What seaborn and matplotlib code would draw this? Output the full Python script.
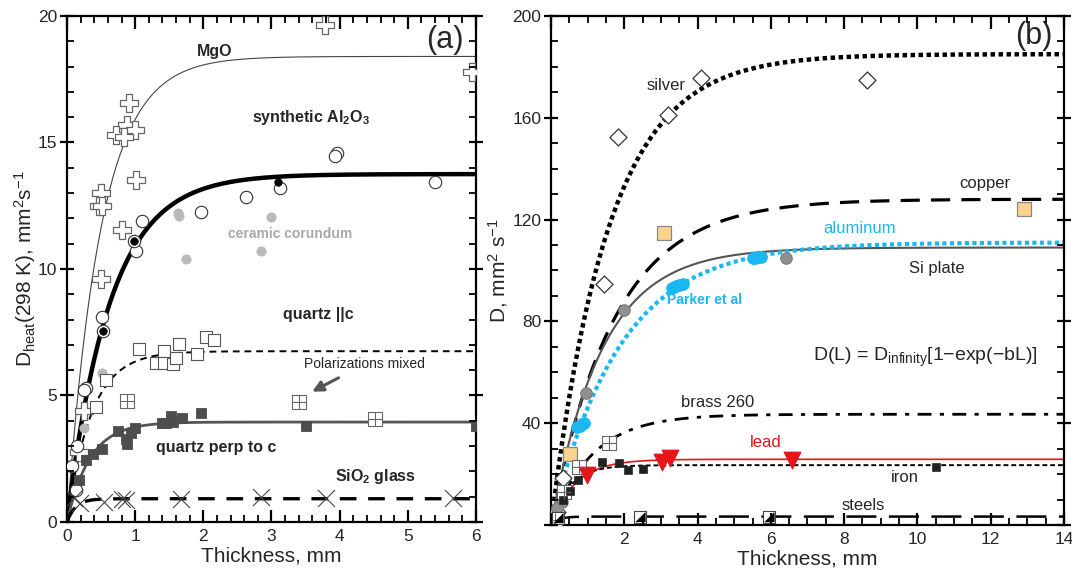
"""Thickness dependence of thermal diffusivity, panels (a) and (b)."""
import matplotlib
matplotlib.use("Agg")
import matplotlib.pyplot as plt
from matplotlib.ticker import MultipleLocator
import numpy as np
import pandas as pd
import seaborn as sns

# ---------------- panel (a): fits D(L) = D_inf [1 - exp(-bL)] ----------------
a_fit_dinf = {"MgO": 18.4, "Al2O3": 13.75, "qz_par": 6.75, "qz_perp": 3.95, "glass": 0.92}
a_fit_b = {"MgO": 2.0, "Al2O3": 1.58, "qz_par": 2.8, "qz_perp": 3.0, "glass": 8.0}

# panel (a) measurements
mgo_x = [0.91, 0.88, 1.0, 0.72, 0.84, 1.01, 0.5, 0.47, 0.52, 0.8, 0.5, 3.78, 5.94, 0.25, 0.17]
mgo_y = [16.55, 15.7, 15.5, 15.3, 15.2, 13.5, 13.0, 12.5, 12.5, 11.55, 9.6, 19.65, 17.8, 4.4, 2.75]

al_open_x = [1.1, 1.97, 2.63, 1.01, 0.985, 0.52, 0.53, 3.96, 3.93, 5.4, 3.13, 0.28, 0.25, 0.15, 0.08, 0.13]
al_open_y = [11.9, 12.25, 12.85, 10.7, 11.1, 8.1, 7.55, 14.6, 14.45, 13.45, 13.2, 5.3, 5.2, 3.0, 2.2, 1.25]
al_fill_x = [0.985, 0.53, 3.1]
al_fill_y = [11.1, 7.55, 13.45]

cer_x = [1.65, 1.63, 3.0, 1.75, 2.85, 0.51, 0.25]
cer_y = [12.1, 12.2, 12.05, 10.4, 10.7, 5.9, 3.7]

qpar_x = [1.05, 1.3, 1.43, 1.43, 1.55, 1.6, 1.65, 1.9, 2.04, 2.16, 0.57, 0.43]
qpar_y = [6.85, 6.3, 6.75, 6.3, 6.25, 6.5, 7.05, 6.65, 7.3, 7.2, 5.6, 4.55]

qmix_x = [0.88, 3.4, 4.52]
qmix_y = [4.8, 4.75, 4.07]

qperp_x = [1.97, 1.4, 1.53, 1.55, 1.69, 1.45, 1.0, 0.94, 0.75, 0.87, 0.88, 0.52, 0.38, 0.28, 0.18, 3.51, 6.0]
qperp_y = [4.3, 3.9, 4.2, 3.95, 4.1, 3.9, 3.7, 3.5, 3.6, 3.3, 3.1, 2.9, 2.7, 2.45, 1.65, 3.8, 3.8]

glass_x = [0.19, 0.1, 0.55, 0.81, 0.86, 1.67, 2.85, 3.8, 5.66]
glass_y = [0.75, 0.95, 0.8, 0.9, 0.87, 0.9, 1.0, 0.95, 0.95]

# ---------------- panel (b): fits ----------------
b_fit_dinf = {"silver": 185, "copper": 128, "si": 109, "al": 111, "brass": 43.5,
              "lead": 25.8, "iron": 23.5, "steel": 3.3}
b_fit_b = {"silver": 0.635, "copper": 0.58, "si": 0.72, "al": 0.535, "brass": 0.9,
           "lead": 1.5, "iron": 2.0, "steel": 5.0}

silver_x = [1.83, 3.2, 4.1, 8.63, 1.45, 0.33, 0.15]
silver_y = [152.5, 161, 175.8, 174.8, 94.8, 18.4, 5]

copper_x = [3.09, 12.9, 0.52, 0.05]
copper_y = [114.6, 124, 27.8, 3]

si_x = [6.4, 2.0, 0.96, 0.3, 0.16]
si_y = [105, 84.3, 52, 9, 6.7]

al_x = [0.72, 0.78, 0.84, 0.9, 3.3, 3.4, 3.5, 3.6, 5.5, 5.58, 5.66, 5.74, 0.03]
al_y = [38.5, 39, 39.5, 40, 93.3, 93.7, 94.1, 94.5, 104.8, 105, 105.2, 105.4, 2]

brass_x = [1.58, 0.77, 0.36, 0.1]
brass_y = [32.2, 22.7, 13, 2]

lead_x = [0.98, 3.03, 3.25, 6.58]
lead_y = [19.6, 24.7, 26.3, 25.5]

iron_x = [1.39, 1.86, 2.1, 2.5, 0.74, 0.52, 0.33, 10.5]
iron_y = [24.7, 24.3, 21.6, 21.9, 17.6, 13.3, 9.8, 22.7]

steel_x = [2.43, 5.96, 0.2]
steel_y = [3.1, 3.1, 2.7]

sns.set_theme(style="ticks", rc={"axes.edgecolor": "black", "axes.linewidth": 1.6})
plt.rcParams["font.family"] = ["Liberation Sans", "DejaVu Sans"]
plt.rcParams["mathtext.default"] = "regular"

fig = plt.figure(figsize=(10.72, 5.70), dpi=100)
ax_a = fig.add_axes([0.0625, 0.0842, 0.3815, 0.8878])
ax_b = fig.add_axes([0.514, 0.079, 0.4785, 0.893])


def fit_curve(ax, xmax, dinf, b, **kw):
    L = np.linspace(0, xmax, 400)
    df = pd.DataFrame({"L": L, "D": dinf * (1 - np.exp(-b * L))})
    sns.lineplot(data=df, x="L", y="D", ax=ax, estimator=None, sort=False, **kw)


def pts(ax, x, y, **kw):
    sns.scatterplot(x=x, y=y, ax=ax, legend=False, **kw)


# ---- panel (a)
pts(ax_a, mgo_x, mgo_y, marker="P", s=150, color="white", edgecolor="#666", linewidth=0.9, zorder=3)
pts(ax_a, al_open_x, al_open_y, marker="o", s=80, color="white", edgecolor="#333", linewidth=0.8, zorder=3)
pts(ax_a, al_fill_x, al_fill_y, marker="o", s=30, color="black", edgecolor="black", zorder=4)
pts(ax_a, cer_x, cer_y, marker="o", s=45, color="#b9b9b9", edgecolor="#b9b9b9", zorder=3)
pts(ax_a, qpar_x, qpar_y, marker="s", s=70, color="white", edgecolor="#555", linewidth=0.8, zorder=3)
pts(ax_a, qmix_x, qmix_y, marker="s", s=90, color="white", edgecolor="#666", linewidth=0.8, zorder=3)
pts(ax_a, qmix_x, qmix_y, marker="+", s=90, color="#666", linewidth=0.8, zorder=4)
pts(ax_a, qperp_x, qperp_y, marker="s", s=55, color="#4d4d4d", edgecolor="#4d4d4d", zorder=3)
pts(ax_a, glass_x, glass_y, marker="x", s=150, color="#444", linewidth=0.8, zorder=3)

fit_curve(ax_a, 6, a_fit_dinf["MgO"], a_fit_b["MgO"], color="#444", lw=0.8, zorder=2)
fit_curve(ax_a, 6, a_fit_dinf["Al2O3"], a_fit_b["Al2O3"], color="black", lw=3.2, zorder=2)
fit_curve(ax_a, 6, a_fit_dinf["qz_par"], a_fit_b["qz_par"], color="black", lw=1.4,
          linestyle=(0, (3.5, 2.5)), zorder=2)
fit_curve(ax_a, 6, a_fit_dinf["qz_perp"], a_fit_b["qz_perp"], color="#555", lw=2.0, zorder=2)
fit_curve(ax_a, 6, a_fit_dinf["glass"], a_fit_b["glass"], color="black", lw=2.4,
          linestyle=(0, (5, 3.5)), zorder=2)

bold = dict(fontsize=11.5, fontweight="bold")
ax_a.text(2.16, 18.6, "MgO", ha="center", va="center", **bold)
ax_a.text(2.72, 16.0, "synthetic Al$_2$O$_3$", ha="left", va="center", **bold)
ax_a.text(3.28, 11.4, "ceramic corundum", ha="center", va="center", color="#a8a8a8",
          fontsize=10, fontweight="bold")
ax_a.text(3.69, 8.2, "quartz ||c", ha="center", va="center", **bold)
ax_a.text(1.31, 2.95, "quartz perp to c", ha="left", va="center", **bold)
ax_a.text(3.93, 1.78, "SiO$_2$ glass", ha="left", va="center", **bold)
ax_a.text(4.37, 6.25, "Polarizations mixed", ha="center", va="center", fontsize=10)
ax_a.annotate("", xy=(3.56, 5.1), xytext=(4.02, 5.75),
              arrowprops=dict(arrowstyle="-|>", color="#555", lw=2.2, mutation_scale=16))
ax_a.text(5.82, 19.05, "(a)", ha="right", va="center", fontsize=22)

ax_a.set_xlim(0, 6)
ax_a.set_ylim(0, 20)
ax_a.set_xlabel("Thickness, mm", fontsize=15, labelpad=2)
ax_a.set_ylabel("D$_{heat}$(298 K), mm$^2$s$^{-1}$", fontsize=15)

# ---- panel (b)
fit_curve(ax_b, 14, b_fit_dinf["silver"], b_fit_b["silver"], color="black", lw=3.2,
          linestyle=(0, (1, 0.8)), zorder=2)
fit_curve(ax_b, 14, b_fit_dinf["copper"], b_fit_b["copper"], color="black", lw=2.3,
          linestyle=(0, (6, 3.5)), zorder=2)
fit_curve(ax_b, 14, b_fit_dinf["si"], b_fit_b["si"], color="#555", lw=1.5, zorder=2)
fit_curve(ax_b, 14, b_fit_dinf["al"], b_fit_b["al"], color="#1ab8f2", lw=3.0,
          linestyle=(0, (1, 0.8)), zorder=2)
fit_curve(ax_b, 14, b_fit_dinf["brass"], b_fit_b["brass"], color="black", lw=2.0,
          linestyle=(0, (5, 3, 1.5, 3)), zorder=2)
fit_curve(ax_b, 14, b_fit_dinf["lead"], b_fit_b["lead"], color="#e4161b", lw=1.2, zorder=2)
fit_curve(ax_b, 14, b_fit_dinf["iron"], b_fit_b["iron"], color="black", lw=1.4,
          linestyle=(0, (2.5, 1.5)), zorder=2)
fit_curve(ax_b, 14, b_fit_dinf["steel"], b_fit_b["steel"], color="black", lw=1.8,
          linestyle=(0, (12, 5)), zorder=2)

pts(ax_b, silver_x, silver_y, marker="D", s=75, color="white", edgecolor="#333", linewidth=0.9, zorder=3)
pts(ax_b, copper_x, copper_y, marker="s", s=110, color="#fdd38f", edgecolor="#888", linewidth=0.9, zorder=3)
pts(ax_b, si_x, si_y, marker="o", s=70, color="#8f8f8f", edgecolor="#777", zorder=3)
pts(ax_b, al_x, al_y, marker="o", s=70, color="#1ab8f2", edgecolor="#1ab8f2", zorder=3)
pts(ax_b, brass_x, brass_y, marker="s", s=90, color="white", edgecolor="#666", linewidth=0.8, zorder=3)
pts(ax_b, brass_x, brass_y, marker="+", s=90, color="#666", linewidth=0.8, zorder=4)
pts(ax_b, lead_x, lead_y, marker="v", s=140, color="#e4161b", edgecolor="#e4161b", zorder=3)
pts(ax_b, iron_x, iron_y, marker="s", s=35, color="#222", edgecolor="#222", zorder=3)
pts(ax_b, steel_x, steel_y, marker="s", s=70, color="white", edgecolor="#444", linewidth=0.8, zorder=3)
pts(ax_b, steel_x, steel_y, marker=[(1, -1), (1, 1), (-1, -1)], s=45, color="black",
    edgecolor="black", zorder=4)

norm = dict(fontsize=12)
ax_b.text(3.14, 172.5, "silver", ha="center", va="center", **norm)
ax_b.text(11.83, 134, "copper", ha="center", va="center", **norm)
ax_b.text(8.42, 116.5, "aluminum", ha="center", va="center", color="#1ab8f2", **norm)
ax_b.text(10.52, 100.8, "Si plate", ha="center", va="center", **norm)
ax_b.text(4.2, 88.2, "Parker et al", ha="center", va="center", color="#1ab8f2",
          fontsize=10, fontweight="bold")
ax_b.text(7.16, 66, "D(L) = D$_{infinity}$[1\u2212exp(\u2212bL)]", ha="left", va="center",
          fontsize=14)
ax_b.text(4.54, 48.2, "brass 260", ha="center", va="center", **norm)
ax_b.text(5.85, 32.5, "lead", ha="center", va="center", color="#e4161b", **norm)
ax_b.text(9.67, 18.8, "iron", ha="center", va="center", **norm)
ax_b.text(8.52, 7.5, "steels", ha="center", va="center", **norm)
ax_b.text(13.7, 192, "(b)", ha="right", va="center", fontsize=22)

ax_b.set_xlim(0, 14)
ax_b.set_ylim(0, 200)
ax_b.set_xlabel("Thickness, mm", fontsize=15, labelpad=2)
ax_b.set_ylabel("D, mm$^2$ s$^{-1}$", fontsize=15)

# ticks: inward all round, left majors crossing the spine
for ax in (ax_a, ax_b):
    for sp in ax.spines.values():
        sp.set_visible(True)
    ax.tick_params(which="both", direction="in", top=True, right=True,
                   bottom=True, left=True, color="black", labelsize=12.5)
    ax.tick_params(which="major", length=9, width=1.6)
    ax.tick_params(which="minor", length=5, width=1.3)
    ax.tick_params(axis="y", which="major", direction="inout", length=10, pad=2)
    ax.tick_params(axis="x", which="major", pad=5)
    ax.xaxis.set_zorder(10)
    ax.yaxis.set_zorder(10)

ax_a.set_xticks(range(0, 7))
ax_a.set_yticks([0, 5, 10, 15, 20])
ax_b.set_xticks([0, 2, 4, 6, 8, 10, 12, 14], ["", "2", "4", "6", "8", "10", "12", "14"])
ax_b.set_yticks([0, 40, 80, 120, 160, 200], ["", "40", "80", "120", "160", "200"])
ax_a.xaxis.set_minor_locator(MultipleLocator(0.2))
ax_a.yaxis.set_minor_locator(MultipleLocator(1))
ax_b.xaxis.set_minor_locator(MultipleLocator(0.5))
ax_b.yaxis.set_minor_locator(MultipleLocator(10))

ax_a.yaxis.set_label_coords(-0.072, 0.5)
ax_b.yaxis.set_label_coords(-0.08, 0.5)

fig.savefig("out.png", dpi=100)
